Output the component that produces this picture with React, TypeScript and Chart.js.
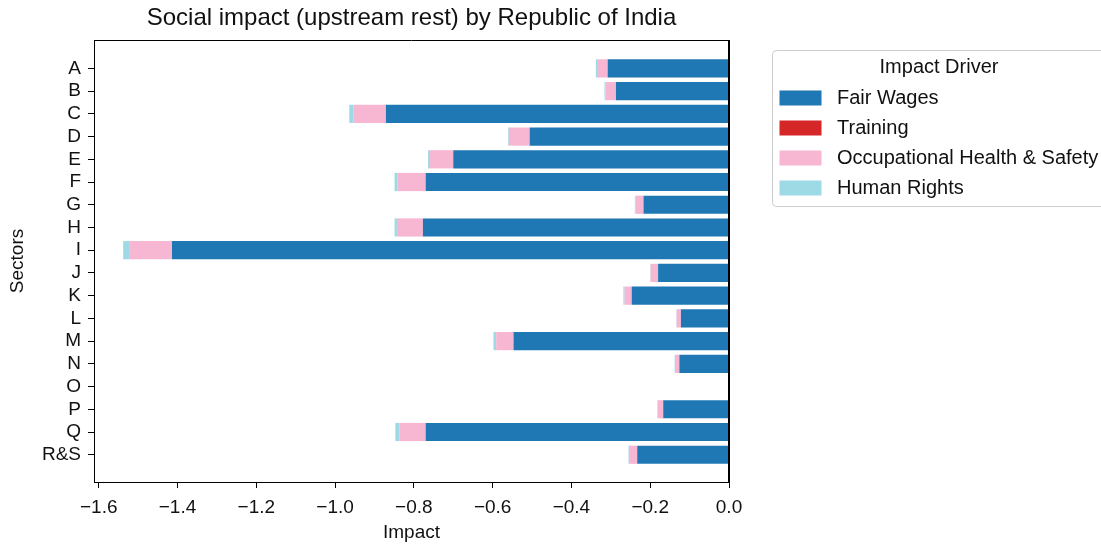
import { useEffect, useRef } from "react";
import { Chart, registerables } from "chart.js";

Chart.register(...registerables);

// Sector codes, top to bottom
const sectors = ["A", "B", "C", "D", "E", "F", "G", "H", "I", "J", "K", "L", "M", "N", "O", "P", "Q", "R&S"];

// Impact per driver and sector
const fairWages = [-0.308, -0.287, -0.871, -0.506, -0.700, -0.770, -0.217, -0.777, -1.414, -0.180, -0.247, -0.122, -0.547, -0.126, 0, -0.167, -0.770, -0.233];
const training = [0, 0, 0, 0, 0, 0, 0, 0, 0, 0, 0, 0, 0, 0, 0, 0, 0, 0];
const occHealthSafety = [-0.027, -0.027, -0.082, -0.053, -0.059, -0.072, -0.020, -0.066, -0.109, -0.019, -0.018, -0.011, -0.044, -0.011, 0, -0.014, -0.067, -0.021];
const humanRights = [-0.003, -0.002, -0.011, -0.002, -0.005, -0.007, -0.002, -0.006, -0.015, -0.001, -0.003, -0.001, -0.007, -0.001, 0, -0.001, -0.010, -0.001];

const driverNames = ["Fair Wages", "Training", "Occupational Health & Safety", "Human Rights"];
const driverColors = ["#1f77b4", "#d62728", "#f7b6d2", "#9edae5"];

const xTicks = [-1.6, -1.4, -1.2, -1.0, -0.8, -0.6, -0.4, -0.2, 0.0];

const FONT = '"Liberation Sans", Arial, sans-serif';
const W = 1101;
const H = 546;

// Black frame around the plot plus the heavier line at zero
const framePlugin = {
  id: "frame",
  afterDraw(chart: any) {
    const { ctx, chartArea } = chart;
    const { left, right, top, bottom } = chartArea;
    ctx.save();
    ctx.strokeStyle = "#000";
    ctx.lineWidth = 1;
    ctx.beginPath();
    ctx.moveTo(left, top + 0.5);
    ctx.lineTo(right, top + 0.5);
    ctx.stroke();
    ctx.lineWidth = 2;
    const x0 = chart.scales.x.getPixelForValue(0);
    ctx.beginPath();
    ctx.moveTo(x0, top);
    ctx.lineTo(x0, bottom);
    ctx.stroke();
    ctx.restore();
  },
};

// Boxed legend to the right of the plot
const driverLegendPlugin = {
  id: "driverLegend",
  afterDraw(chart: any) {
    const { ctx } = chart;
    const bx = 772.5;
    const by = 50.5;
    const bw = 340;
    const bh = 156;
    ctx.save();
    ctx.beginPath();
    ctx.roundRect(bx, by, bw, bh, 4);
    ctx.fillStyle = "rgba(255,255,255,0.8)";
    ctx.fill();
    ctx.strokeStyle = "#cccccc";
    ctx.lineWidth = 1;
    ctx.stroke();

    ctx.fillStyle = "#111";
    ctx.font = `20px ${FONT}`;
    ctx.textBaseline = "middle";
    ctx.textAlign = "center";
    ctx.fillText("Impact Driver", 939, 67);

    ctx.textAlign = "left";
    chart.data.datasets.forEach((ds: any, i: number) => {
      const cy = 98 + i * 30;
      ctx.fillStyle = ds.backgroundColor;
      ctx.fillRect(779.5, cy - 7.5, 42, 15);
      ctx.fillStyle = "#111";
      ctx.fillText(ds.label, 837, cy);
    });
    ctx.restore();
  },
};

export default function App() {
  const canvasRef = useRef<HTMLCanvasElement | null>(null);

  useEffect(() => {
    if (!canvasRef.current) return;
    const series = [fairWages, training, occHealthSafety, humanRights];
    const chart = new Chart(canvasRef.current, {
      type: "bar",
      data: {
        datasets: series.map((values, k) => ({
          label: driverNames[k],
          data: values.map((v, i) => ({ x: v, y: i })),
          backgroundColor: driverColors[k],
          borderWidth: 0,
          barPercentage: 0.8,
          categoryPercentage: 1.0,
        })),
      },
      options: {
        indexAxis: "y",
        animation: false,
        responsive: false,
        maintainAspectRatio: false,
        layout: { padding: { left: 0, right: W - 729, top: 0, bottom: 0 } },
        plugins: {
          legend: { display: false },
          tooltip: { enabled: false },
          title: {
            display: true,
            text: "Social impact (upstream rest) by Republic of India",
            fullSize: false,
            color: "#111",
            font: { family: FONT, size: 24, weight: "normal" },
            padding: { top: 4, bottom: 7.2 },
          },
        },
        scales: {
          x: {
            type: "linear",
            stacked: true,
            min: -1.612,
            max: 0,
            afterBuildTicks: (s: any) => {
              s.ticks = xTicks.map((v) => ({ value: v }));
            },
            afterFit: (s: any) => {
              s.height = H - 482;
            },
            ticks: {
              color: "#111",
              font: { family: FONT, size: 19 },
              padding: 8,
              maxRotation: 0,
              autoSkip: false,
              callback: (v: any) => (v === 0 ? "0.0" : "\u2212" + Math.abs(v).toFixed(1)),
            },
            grid: { display: true, drawOnChartArea: false, drawTicks: true, tickLength: 6, color: "#000", offset: false },
            border: { display: true, color: "#000", width: 1 },
            title: {
              display: true,
              text: "Impact",
              color: "#111",
              font: { family: FONT, size: 19 },
              padding: { top: 0, bottom: 2 },
            },
          },
          y: {
            type: "linear",
            stacked: true,
            reverse: true,
            offset: false,
            min: -1.25,
            max: sectors.length - 1 + 1.2,
            afterBuildTicks: (s: any) => {
              s.ticks = sectors.map((_, i) => ({ value: i }));
            },
            afterFit: (s: any) => {
              s.width = 94;
            },
            ticks: {
              color: "#111",
              font: { family: FONT, size: 19 },
              padding: 7,
              autoSkip: false,
              callback: (v: any) => sectors[v] ?? "",
            },
            grid: { display: true, drawOnChartArea: false, drawTicks: true, tickLength: 6, color: "#000", offset: false },
            border: { display: true, color: "#000", width: 1 },
            title: {
              display: true,
              text: "Sectors",
              color: "#111",
              font: { family: FONT, size: 19 },
              padding: { top: 6, bottom: 0 },
            },
          },
        },
      },
      plugins: [framePlugin, driverLegendPlugin],
    } as any);
    return () => chart.destroy();
  }, []);

  return (
    <div style={{ position: "absolute", left: 0, top: 0, width: W, height: H, background: "#fff" }}>
      <canvas ref={canvasRef} width={W} height={H} style={{ width: W, height: H, display: "block" }} />
    </div>
  );
}
